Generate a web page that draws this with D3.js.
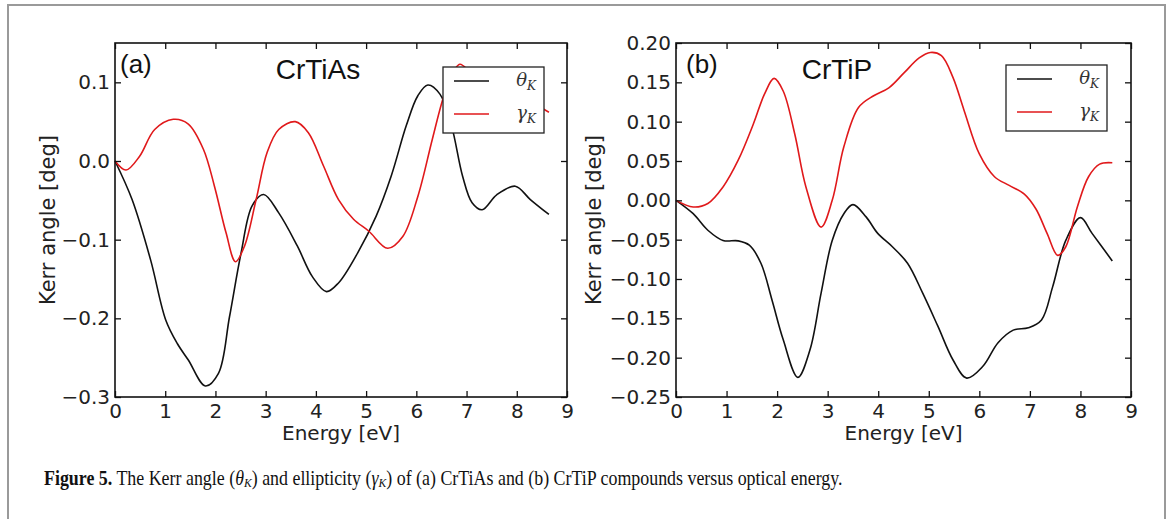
<!DOCTYPE html>
<html>
<head>
<meta charset="utf-8">
<script src="https://cdn.jsdelivr.net/npm/d3@7"></script>
<style>
  body { margin: 0; background: #fff; }
  svg { display: block; }
</style>
</head>
<body>
<script>
// values (energy in eV, Kerr angle in deg)
var energyThetaA = [0, 0.34, 0.71, 1.01, 1.24, 1.46, 1.80, 2.06, 2.28, 2.51, 2.73, 2.96, 3.26, 3.63, 3.93, 4.21, 4.45, 4.83, 5.2, 5.5, 5.8, 6.03, 6.23, 6.47, 6.70, 6.92, 7.11, 7.31, 7.6, 7.97, 8.27, 8.64];
var thetaA = [0, -0.049, -0.126, -0.202, -0.232, -0.253, -0.286, -0.27, -0.198, -0.117, -0.057, -0.0426, -0.066, -0.108, -0.147, -0.166, -0.155, -0.117, -0.070, -0.019, 0.045, 0.083, 0.0966, 0.085, 0.045, -0.019, -0.053, -0.062, -0.043, -0.032, -0.049, -0.068];

var energyGammaA = [0, 0.22, 0.49, 0.79, 1.16, 1.46, 1.76, 1.98, 2.21, 2.40, 2.58, 2.81, 3.03, 3.26, 3.59, 3.85, 4.15, 4.45, 4.75, 5.05, 5.43, 5.73, 6.03, 6.32, 6.55, 6.77, 6.87, 7.1, 7.5, 7.9, 8.3, 8.64];
var gammaA = [0, -0.0115, 0.006, 0.04, 0.053, 0.047, 0.015, -0.032, -0.091, -0.128, -0.108, -0.049, 0.011, 0.040, 0.050, 0.036, -0.006, -0.049, -0.074, -0.089, -0.111, -0.096, -0.045, 0.028, 0.083, 0.117, 0.123, 0.112, 0.097, 0.085, 0.074, 0.062];

var energyThetaB = [0, 0.34, 0.63, 0.93, 1.23, 1.45, 1.68, 1.90, 2.12, 2.41, 2.65, 2.87, 3.09, 3.32, 3.50, 3.76, 3.99, 4.28, 4.58, 4.88, 5.18, 5.48, 5.75, 6.07, 6.37, 6.67, 6.97, 7.23, 7.45, 7.71, 8.0, 8.23, 8.63];
var thetaB = [0, -0.017, -0.038, -0.051, -0.0515, -0.057, -0.080, -0.127, -0.177, -0.225, -0.19, -0.118, -0.051, -0.017, -0.0055, -0.021, -0.042, -0.059, -0.080, -0.118, -0.160, -0.203, -0.226, -0.211, -0.181, -0.165, -0.162, -0.152, -0.110, -0.051, -0.022, -0.042, -0.077];

var energyGammaB = [0, 0.34, 0.63, 0.93, 1.23, 1.53, 1.75, 1.94, 2.12, 2.35, 2.57, 2.87, 3.09, 3.32, 3.61, 3.91, 4.21, 4.51, 4.81, 5.03, 5.25, 5.48, 5.70, 6.0, 6.30, 6.59, 6.89, 7.12, 7.34, 7.55, 7.71, 7.94, 8.16, 8.38, 8.63];
var gammaB = [0, -0.0084, -0.004, 0.017, 0.051, 0.097, 0.135, 0.155, 0.139, 0.084, 0.017, -0.034, 0.0, 0.068, 0.118, 0.133, 0.143, 0.162, 0.181, 0.188, 0.184, 0.156, 0.114, 0.059, 0.030, 0.019, 0.008, -0.011, -0.042, -0.070, -0.059, -0.008, 0.030, 0.046, 0.0477];

var xTicks = [0, 1, 2, 3, 4, 5, 6, 7, 8, 9];
var yTicksA = [-0.3, -0.2, -0.1, 0.0, 0.1];
var yTicksB = [-0.25, -0.20, -0.15, -0.10, -0.05, 0.00, 0.05, 0.10, 0.15, 0.20];
var panelLabels = ["(a)", "(b)"];
var compounds = ["CrTiAs", "CrTiP"];

window.onload = function(){

    var w = 1171, h = 519;

    var svg = d3.select("body")
        .append("svg")
        .attr("width", w)
        .attr("height", h);

    // grey frame round the whole figure (its bottom edge is cut off)
    svg.append("rect")
        .attr("x", 8)
        .attr("y", 5)
        .attr("width", 1157)
        .attr("height", 540)
        .style("fill", "#fff")
        .style("stroke", "#9a9a9a")
        .style("stroke-width", 2);

    var panels = [
        { left: 115, right: 567, yDomain: [-0.3, 0.15], yTicks: yTicksA, fmt: ".1f",
          theta: [energyThetaA, thetaA], gamma: [energyGammaA, gammaA],
          ylabX: 48, legend: [443, 67], titleX: 318, tagX: 120 },
        { left: 676, right: 1131, yDomain: [-0.25, 0.20], yTicks: yTicksB, fmt: ".2f",
          theta: [energyThetaB, thetaB], gamma: [energyGammaB, gammaB],
          ylabX: 594, legend: [1006, 65], titleX: 837, tagX: 686 }
    ];

    var top = 43, bottom = 397, tickLen = 6;
    var axisFont = "'DejaVu Sans', sans-serif";

    panels.forEach(function(p, i){
        var g = svg.append("g");

        var x = d3.scaleLinear().domain([0, 9]).range([p.left, p.right]);
        var y = d3.scaleLinear().domain(p.yDomain).range([bottom, top]);

        // curves
        var line = d3.line()
            .x(function(d){ return x(d[0]); })
            .y(function(d){ return y(d[1]); })
            .curve(d3.curveCatmullRom.alpha(0.5));

        [[p.theta, "#111"], [p.gamma, "#e0191b"]].forEach(function(s){
            var pts = s[0][0].map(function(e, k){ return [e, s[0][1][k]]; });
            g.append("path")
                .datum(pts)
                .attr("d", line)
                .style("fill", "none")
                .style("stroke", s[1])
                .style("stroke-width", 1.6);
        });

        // axes: ticks point inwards, on all four sides
        var fmt = d3.format(p.fmt);
        g.append("g")
            .attr("transform", "translate(0," + bottom + ")")
            .call(d3.axisBottom(x).tickValues(xTicks).tickSizeInner(-tickLen).tickSizeOuter(0).tickPadding(7).tickFormat(d3.format("d")));
        g.append("g")
            .attr("transform", "translate(0," + top + ")")
            .call(d3.axisTop(x).tickValues(xTicks).tickSizeInner(-tickLen).tickSizeOuter(0).tickFormat(""));
        g.append("g")
            .attr("transform", "translate(" + p.left + ",0)")
            .call(d3.axisLeft(y).tickValues(p.yTicks).tickSizeInner(-tickLen).tickSizeOuter(0).tickPadding(5).tickFormat(fmt));
        g.append("g")
            .attr("transform", "translate(" + p.right + ",0)")
            .call(d3.axisRight(y).tickValues(p.yTicks).tickSizeInner(-tickLen).tickSizeOuter(0).tickFormat(""));

        g.selectAll(".domain").remove();
        g.selectAll(".tick line").style("stroke", "#111").style("stroke-width", 1.3);
        g.selectAll(".tick text")
            .style("font-family", axisFont)
            .style("font-size", "20px")
            .style("fill", "#222");

        // plot box
        g.append("rect")
            .attr("x", p.left)
            .attr("y", top)
            .attr("width", p.right - p.left)
            .attr("height", bottom - top)
            .style("fill", "none")
            .style("stroke", "#111")
            .style("stroke-width", 1.6);

        // axis titles
        g.append("text")
            .attr("x", (p.left + p.right) / 2)
            .attr("y", 440)
            .attr("text-anchor", "middle")
            .style("font-family", axisFont)
            .style("font-size", "20px")
            .style("fill", "#222")
            .text("Energy [eV]");

        g.append("text")
            .attr("transform", "translate(" + p.ylabX + "," + ((top + bottom) / 2) + ") rotate(-90)")
            .attr("text-anchor", "middle")
            .attr("dy", "0.35em")
            .style("font-family", axisFont)
            .style("font-size", "21px")
            .style("fill", "#222")
            .text("Kerr angle [deg]");

        // panel tag and compound name
        g.append("text")
            .attr("x", p.tagX)
            .attr("y", 73)
            .style("font-family", "'Liberation Sans', Arial, sans-serif")
            .style("font-size", "26px")
            .style("fill", "#111")
            .text(panelLabels[i]);

        g.append("text")
            .attr("x", p.titleX)
            .attr("y", 79)
            .attr("text-anchor", "middle")
            .style("font-family", "'Liberation Sans', Arial, sans-serif")
            .style("font-size", "28px")
            .style("fill", "#111")
            .text(compounds[i]);

        // legend
        var lx = p.legend[0], ly = p.legend[1];
        var leg = g.append("g").attr("transform", "translate(" + lx + "," + ly + ")");
        leg.append("rect")
            .attr("width", 101)
            .attr("height", 66)
            .style("fill", "#fff")
            .style("stroke", "#222")
            .style("stroke-width", 1.3);

        [["θ", "#111", 14], ["γ", "#e0191b", 47]].forEach(function(item){
            leg.append("line")
                .attr("x1", 11).attr("x2", 46)
                .attr("y1", item[2]).attr("y2", item[2])
                .style("stroke", item[1])
                .style("stroke-width", 1.6);
            var t = leg.append("text")
                .attr("x", 93)
                .attr("y", item[2] + 5)
                .attr("text-anchor", "end")
                .style("font-family", "'DejaVu Serif', serif")
                .style("font-style", "italic")
                .style("font-size", "18px")
                .style("fill", "#333");
            t.append("tspan").text(item[0]);
            t.append("tspan").attr("dy", 4).style("font-size", "12px").text("K");
        });
    });

    // caption: condensed serif, squeezed horizontally to the width it has in the figure
    var capX = 44, capW = 799;
    var capG = svg.append("g");
    var cap = capG.append("text")
        .attr("x", 0)
        .attr("y", 0)
        .style("font-family", "'Liberation Serif', 'Times New Roman', serif")
        .style("font-size", "20px")
        .style("fill", "#111");

    cap.append("tspan").style("font-weight", "bold").text("Figure 5.");
    cap.append("tspan").text(" The Kerr angle (");
    cap.append("tspan").style("font-style", "italic").text("θ");
    cap.append("tspan").attr("dy", 2).style("font-style", "italic").style("font-size", "13px").text("K");
    cap.append("tspan").attr("dy", -2).text(") and ellipticity (");
    cap.append("tspan").style("font-style", "italic").text("γ");
    cap.append("tspan").attr("dy", 2).style("font-style", "italic").style("font-size", "13px").text("K");
    cap.append("tspan").attr("dy", -2).text(") of (a) CrTiAs and (b) CrTiP compounds versus optical energy.");

    var natural = cap.node().getComputedTextLength();
    capG.attr("transform", "translate(" + capX + ",485) scale(" + (capW / natural) + ",1)");
};
</script>
</body>
</html>
